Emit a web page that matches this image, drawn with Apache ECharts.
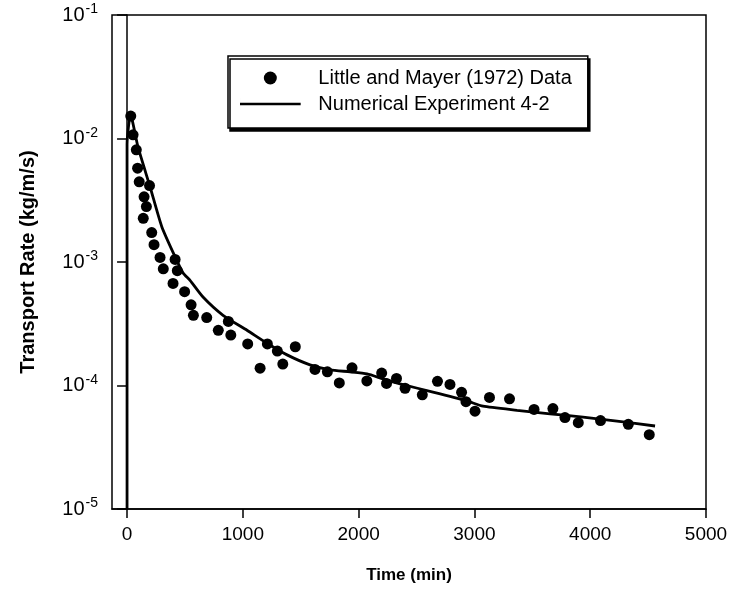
<!DOCTYPE html>
<html>
<head>
<meta charset="utf-8">
<script src="https://cdn.jsdelivr.net/npm/echarts@6/dist/echarts.min.js"></script>
<style>
  html, body { margin: 0; padding: 0; background: #fff; }
  #chart { width: 746px; height: 590px; }
</style>
</head>
<body>
<div id="chart"></div>
<script>
// Little and Mayer (1972) data: time (min), transport rate (kg/m/s)
var dataTime = [32, 52, 80, 91, 105, 194, 147, 167, 140, 213, 233, 285, 415, 313, 434, 397, 497, 553, 573, 688,
  875, 788, 896, 1042, 1149, 1212, 1298, 1345, 1453, 1623, 1730, 1833, 1943, 2071, 2199, 2241, 2327, 2401,
  2550, 2681, 2789, 2889, 2927, 3005, 3130, 3303, 3515, 3678, 3782, 3897, 4089, 4329, 4510];
var dataRate = [1.52e-2, 1.07e-2, 8.1e-3, 5.75e-3, 4.46e-3, 4.16e-3, 3.37e-3, 2.81e-3, 2.26e-3, 1.73e-3, 1.38e-3,
  1.09e-3, 1.05e-3, 8.8e-4, 8.5e-4, 6.7e-4, 5.75e-4, 4.5e-4, 3.7e-4, 3.55e-4, 3.3e-4, 2.8e-4, 2.56e-4, 2.17e-4,
  1.38e-4, 2.17e-4, 1.9e-4, 1.49e-4, 2.06e-4, 1.35e-4, 1.29e-4, 1.05e-4, 1.39e-4, 1.09e-4, 1.26e-4, 1.04e-4,
  1.14e-4, 9.5e-5, 8.4e-5, 1.08e-4, 1.02e-4, 8.8e-5, 7.4e-5, 6.2e-5, 8.0e-5, 7.8e-5, 6.4e-5, 6.5e-5, 5.5e-5,
  5.0e-5, 5.2e-5, 4.85e-5, 4.0e-5];

// Numerical Experiment 4-2
var modelTime = [0, 0, 30, 95, 199, 300, 415, 484, 544, 656, 829, 1036, 1209, 1382, 1580, 1753, 1926, 2073,
  2211, 2358, 2642, 2936, 3074, 3368, 3653, 3938, 4231, 4560];
var modelRate = [1e-5, 9e-3, 1.55e-2, 8.5e-3, 4.05e-3, 1.93e-3, 1.1e-3, 8.15e-4, 7.1e-4, 5.2e-4, 3.7e-4, 2.8e-4,
  2.2e-4, 1.77e-4, 1.47e-4, 1.34e-4, 1.29e-4, 1.24e-4, 1.13e-4, 1.03e-4, 8.85e-5, 7.5e-5, 6.8e-5, 6.3e-5,
  5.9e-5, 5.55e-5, 5.15e-5, 4.7e-5];

var xTicks = [0, 1000, 2000, 3000, 4000, 5000];
var yTicks = [1e-5, 1e-4, 1e-3, 1e-2, 1e-1];

var font = 'Liberation Sans, Arial, sans-serif';

function pairs(xs, ys) {
  var out = [];
  for (var i = 0; i < xs.length; i++) out.push([xs[i], ys[i]]);
  return out;
}

var chart = echarts.init(document.getElementById('chart'));

var option = {
  backgroundColor: '#fff',
  animation: false,
  grid: {
    left: 112, right: 40, top: 15, bottom: 81,
    show: true, borderColor: '#000', borderWidth: 1.5
  },
  legend: {
    left: 228, top: 56,
    orient: 'vertical',
    padding: [12, 16, 14, 12],
    itemGap: 6,
    itemWidth: 70, itemHeight: 13,
    backgroundColor: '#fff',
    borderColor: '#000', borderWidth: 1.5,
    shadowColor: '#000', shadowBlur: 0, shadowOffsetX: 2, shadowOffsetY: 3,
    textStyle: { fontFamily: font, fontSize: 20, color: '#000', padding: [0, 0, 0, 8] },
    data: [
      { name: 'Little and Mayer (1972) Data', icon: 'circle' },
      { name: 'Numerical Experiment 4-2', icon: 'path://M0,6H70V9H0Z M0,0H0.01V15H0Z' }
    ]
  },
  xAxis: {
    type: 'value', min: -130, max: 5000,
    name: 'Time (min)', nameLocation: 'middle', nameGap: 58,
    nameTextStyle: { fontFamily: font, fontSize: 17, fontWeight: 'bold', color: '#000' },
    axisLine: { lineStyle: { color: '#000', width: 1.5 } },
    axisTick: { inside: false, length: 9, customValues: xTicks, lineStyle: { color: '#000', width: 1.5 } },
    axisLabel: {
      customValues: xTicks, margin: 16, fontFamily: font, fontSize: 19, color: '#000',
      formatter: function (v) { return String(v); }
    },
    splitLine: { show: false }
  },
  yAxis: {
    type: 'log', logBase: 10, min: 1e-5, max: 1e-1,
    name: 'Transport Rate (kg/m/s)', nameLocation: 'middle', nameGap: 74,
    nameTextStyle: { fontFamily: font, fontSize: 20, fontWeight: 'bold', color: '#000' },
    axisLine: { show: true, lineStyle: { color: '#000', width: 1.5 } },
    axisTick: { show: true, inside: false, length: 10, customValues: yTicks, lineStyle: { color: '#000', width: 1.5 } },
    minorTick: { show: false },
    axisLabel: {
      customValues: yTicks, margin: 14,
      formatter: function (v) {
        var e = Math.round(Math.log(v) / Math.LN10);
        return '{b|10}{s|' + e + '}';
      },
      rich: {
        b: { fontFamily: font, fontSize: 20, color: '#000' },
        s: { fontFamily: font, fontSize: 14, color: '#000', verticalAlign: 'bottom', padding: [0, 0, 11, 1] }
      }
    },
    splitLine: { show: false }
  },
  series: [
    {
      name: 'Little and Mayer (1972) Data',
      type: 'scatter',
      symbol: 'circle', symbolSize: 11,
      itemStyle: { color: '#000', opacity: 1 },
      data: pairs(dataTime, dataRate),
      z: 3
    },
    {
      name: 'Numerical Experiment 4-2',
      type: 'line',
      symbol: 'none', smooth: 0.2,
      lineStyle: { color: '#000', width: 2.8 },
      itemStyle: { color: '#000' },
      data: pairs(modelTime, modelRate),
      z: 2
    }
  ]
};

chart.setOption(option);
</script>
</body>
</html>
